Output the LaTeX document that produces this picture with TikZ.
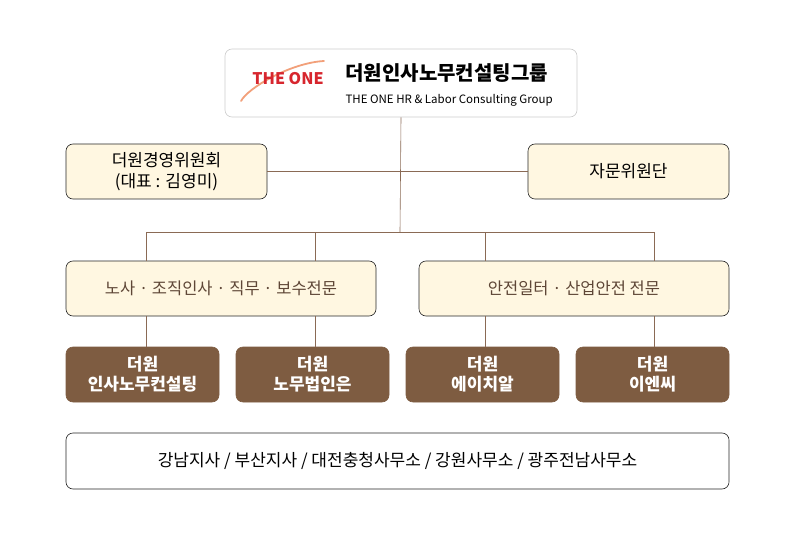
\documentclass[tikz,border=0pt]{standalone}
\usepackage{fontspec}
\setmainfont{Noto Sans CJK KR}
\definecolor{linebrown}{HTML}{8A6A55}
\definecolor{cream}{HTML}{FFF7E1}
\definecolor{darkbrown}{HTML}{7E5C41}
\definecolor{textbrown}{HTML}{5E4636}
\definecolor{logored}{HTML}{D7262E}
\definecolor{logoorange}{HTML}{F2A07A}
\tikzset{
  box/.style={draw=black!85, rounded corners=7pt, line width=0.6pt, align=center, inner sep=0pt},
  creambox/.style={box, fill=cream, font=\fontsize{16.5}{20}\selectfont},
  brownbox/.style={box, draw=darkbrown, fill=darkbrown, text=white, font=\bfseries\fontsize{17}{20}\selectfont},
  link/.style={draw=linebrown, line width=0.6pt}
}
\begin{document}
\begin{tikzpicture}[x=1pt,y=-1pt]
\useasboundingbox (0,0) rectangle (800,540);

% Logo
\node[box, draw=gray!40, fill=white, minimum width=352pt, minimum height=68pt] (top) at (401,83) {};
\draw[logoorange, line width=1.8pt, line cap=round] (241,101) .. controls (248,88) and (290,63) .. (324,61);
\node[text=logored, font=\bfseries\fontsize{16}{18}\selectfont] (theone) at (288,79) {THE ONE};
\node[anchor=west, font=\bfseries\fontsize{20}{24}\selectfont] (title) at (342,73) {더원인사노무컨설팅그룹};
\node[anchor=west, font=\fontsize{11.5}{13}\selectfont] (subtitle) at (342,100) {THE ONE HR \& Labor Consulting Group};

% Second row
\node[creambox, minimum width=201pt, minimum height=55pt, font=\fontsize{17}{21}\selectfont] (board) at (166.5,171.5) {더원경영위원회\\(대표 : 김영미)};
\node[creambox, minimum width=201pt, minimum height=55pt, font=\fontsize{17}{21}\selectfont] (advise) at (628.5,171.5) {자문위원단};

% Third row
\node[creambox, text=textbrown, minimum width=310pt, minimum height=55pt] (labor) at (221,288.5) {노사 · 조직인사 · 직무 · 보수전문};
\node[creambox, text=textbrown, minimum width=310pt, minimum height=55pt] (safety) at (574,288.5) {안전일터 · 산업안전 전문};

% Companies
\node[brownbox, minimum width=153pt, minimum height=55pt] (c1) at (142.5,374.5) {더원\\인사노무컨설팅};
\node[brownbox, minimum width=153pt, minimum height=55pt] (c2) at (312.5,374.5) {더원\\노무법인은};
\node[brownbox, minimum width=153pt, minimum height=55pt] (c3) at (482.5,374.5) {더원\\에이치알};
\node[brownbox, minimum width=153pt, minimum height=55pt] (c4) at (652.5,374.5) {더원\\이엔씨};

% Branches
\node[box, fill=white, minimum width=663pt, minimum height=56pt, font=\fontsize{17}{20}\selectfont] (branch) at (397.5,461) {강남지사 / 부산지사 / 대전충청사무소 / 강원사무소 / 광주전남사무소};

% Connectors
\coordinate (hub) at (400,232);
\draw[link] (top.south) -- (hub);
\draw[link] (board.east) -- (advise.west);
\coordinate (l1) at (146,232);
\coordinate (l4) at (654,232);
\draw[link] (l1) -- (l4);
\foreach \x in {146,315,485,654}{
  \draw[link] (\x,232) -- (\x,261);
  \draw[link] (\x,316) -- (\x,347);
}
\end{tikzpicture}
\end{document}
